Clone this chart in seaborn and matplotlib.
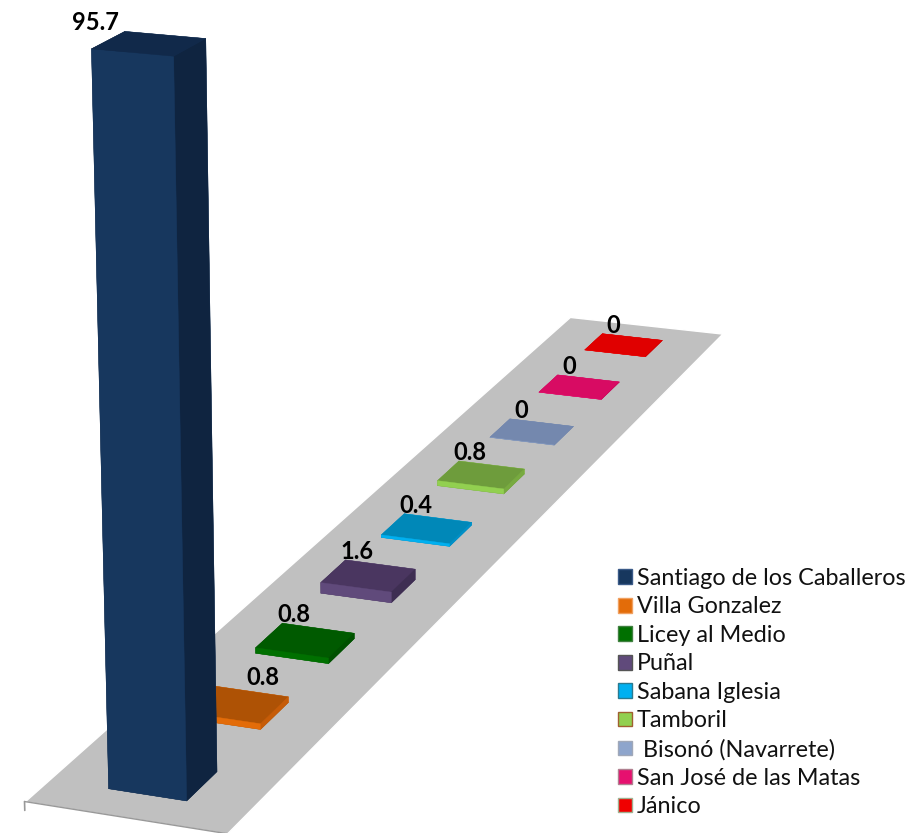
import numpy as np
import matplotlib
matplotlib.use("Agg")
import matplotlib.pyplot as plt
from matplotlib.patches import Patch
from mpl_toolkits.mplot3d import proj3d
import seaborn as sns

sns.set_theme(style="white")
plt.rcParams['font.family'] = ['Lato', 'DejaVu Sans']

municipios = ["Santiago de los Caballeros", "Villa Gonzalez", "Licey al Medio", "Puñal",
              "Sabana Iglesia", "Tamboril", " Bisonó (Navarrete)", "San José de las Matas", "Jánico"]
valores = [95.7, 0.8, 0.8, 1.6, 0.4, 0.8, 0, 0, 0]
etiquetas = ["95.7", "0.8", "0.8", "1.6", "0.4", "0.8", "0", "0", "0"]
tops = ["#11294A", "#AE5205", "#005A00", "#4A3660", "#0088B8", "#6E9C3C", "#7488AE", "#D80B63", "#E00000"]
fronts = ["#17375E", "#E36C09", "#007000", "#604A7B", "#00B0F0", "#92D050", "#8EA5CC", "#E6106F", "#F00000"]
sides = ["#0F2440", "#C65C08", "#005000", "#3E2E52", "#0090C8", "#78AA40", "#7488AE", "#C00858", "#C00000"]
bordes = ["#3A5A88", "#F0A060", "#408040", "#555555", "#2A7A90", "#A06030", "#A0A8B8", "#B08090", "#A0B090"]

fig = plt.figure(figsize=(9.13, 8.33), dpi=100, facecolor="white")
ax = fig.add_axes([-0.044, 0.2394, 1, 1], projection="3d")
ax.patch.set_alpha(0)
ax.computed_zorder = False
ax.set_proj_type("persp", focal_length=0.9)
ax.view_init(elev=15.8, azim=-69.7)
ax.set_axis_off()
aspect = (1.16, 9.14, 4.23)
ax.set_box_aspect(aspect, zoom=1.6 * np.linalg.norm(aspect) / 8.39)

n = len(valores)
ax.set_xlim(0, 1)
ax.set_ylim(0, n)
ax.set_zlim(0, 100)

ax.plot_surface(np.array([[0, 1], [0, 1]]), np.array([[0, 0], [n, n]]), np.zeros((2, 2)),
                color="#C0C0C0", shade=False, zorder=0)
ax.plot([0, 1], [0, 0], [0, 0], color="#999999", lw=1, zorder=1)
ax.plot([0, 0], [0, 0], [0, -1.2], color="#999999", lw=1.2, zorder=1)
ax.plot([1, 1], [0, 0], [0, -1.2], color="#999999", lw=1.2, zorder=1)

for i, v in enumerate(valores):
    caras = [tops[i], tops[i], fronts[i], fronts[i], sides[i], sides[i]]
    ax.bar3d(0.30, i + 0.30, 0, 0.39, 0.40, v, color=caras, edgecolor=caras, linewidth=0.3,
             shade=False, zorder=2 + n - i)

proj = ax.get_proj()
for i, v in enumerate(valores):
    xp, yp, _ = proj3d.proj_transform(0.30, i + 0.70, v, proj)
    desfase = {0: (-4, -2), 1: (35, -2)}.get(i, (8, -2))
    ax.annotate(etiquetas[i], xy=(xp, yp), xytext=desfase, textcoords="offset points",
                ha="right" if i == 0 else "center", va="bottom", fontsize=17, fontweight="bold",
                color="black", zorder=50, annotation_clip=False)

for art in list(ax.collections) + list(ax.lines):
    art.set_clip_on(False)

handles = [Patch(facecolor=c, edgecolor=b, linewidth=1) for c, b in zip(fronts, bordes)]
fig.legend(handles, municipios, loc="lower left", bbox_to_anchor=(0.677, 0.019), frameon=False, fontsize=16.8,
           borderaxespad=0, borderpad=0,
           handlelength=0.6, handleheight=0.6, handletextpad=0.2, labelspacing=0.32, labelcolor="#111111")

fig.savefig("out.png", dpi=100)
